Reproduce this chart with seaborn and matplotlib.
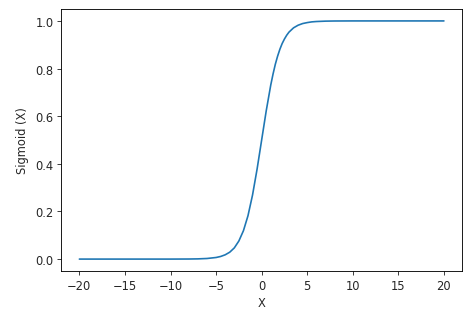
import matplotlib
matplotlib.use("Agg")
import matplotlib.pyplot as plt
import seaborn as sns
import pandas as pd

x_values = [-20, -15, -10, -8, -7, -6, -5, -4.5, -4, -3.5, -3, -2.5, -2, -1.5, -1, -0.5,
            0, 0.5, 1, 1.25, 1.5, 1.75, 2, 2.25, 2.5, 2.75, 3, 3.5, 4, 4.5, 5, 5.5, 6, 7, 8, 10, 15, 20]
y_values = [0.0, 0.0, 0.0, 0.0003, 0.0009, 0.0025, 0.0067, 0.011, 0.018, 0.029, 0.047,
            0.076, 0.119, 0.182, 0.269, 0.378, 0.5, 0.622, 0.731, 0.777, 0.818, 0.852,
            0.881, 0.905, 0.924, 0.940, 0.953, 0.971, 0.982, 0.989, 0.993, 0.996,
            0.9975, 0.9991, 0.9997, 1.0, 1.0, 1.0]

sns.set_style("ticks")
plt.rcParams.update({"axes.edgecolor": "black", "font.family": ["DejaVu Sans"]})

fig = plt.figure(figsize=(6.0, 3.962), dpi=79)
ax = fig.add_axes([0.129, 0.131, 0.846, 0.837])

df = pd.DataFrame({"X": x_values, "Y": y_values})
sns.lineplot(data=df, x="X", y="Y", ax=ax, color="#1f77b4", linewidth=1.5)

ax.set_xlabel("X", fontsize=10.5)
ax.set_ylabel("Sigmoid (X)", fontsize=10.5, labelpad=6)
ax.set_xticks([-20, -15, -10, -5, 0, 5, 10, 15, 20])
ax.set_yticks([0.0, 0.2, 0.4, 0.6, 0.8, 1.0])
ax.set_xlim(-22, 22)
ax.set_ylim(-0.05, 1.05)
for s in ax.spines.values():
    s.set_visible(True)
    s.set_linewidth(0.8)
ax.tick_params(labelsize=10.5, width=0.8, length=3.5)

fig.savefig("out.png", dpi=79)
